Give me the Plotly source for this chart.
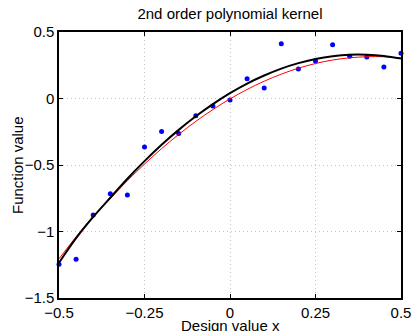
import plotly.graph_objects as go

# Design points
x_pts = [-0.5, -0.45, -0.4, -0.35, -0.3, -0.25, -0.2, -0.15, -0.1, -0.05, 0.0,
         0.05, 0.1, 0.15, 0.2, 0.25, 0.3, 0.35, 0.4, 0.45, 0.5]
y_pts = [-1.247, -1.209, -0.876, -0.716, -0.726, -0.365, -0.249, -0.264, -0.129, -0.056, -0.011,
         0.149, 0.079, 0.412, 0.222, 0.282, 0.405, 0.317, 0.312, 0.237, 0.340]

# Curves
x_curve = x_pts
y_black = [-1.235, -1.050, -0.890, -0.746, -0.603, -0.471, -0.348, -0.236, -0.134, -0.042, 0.040,
           0.112, 0.173, 0.225, 0.266, 0.297, 0.318, 0.329, 0.329, 0.320, 0.300]
y_red = [-1.205, -1.040, -0.885, -0.752, -0.618, -0.493, -0.377, -0.270, -0.172, -0.083, -0.003,
         0.068, 0.130, 0.183, 0.228, 0.263, 0.289, 0.306, 0.314, 0.314, 0.304]

x_ticks = [-0.5, -0.25, 0, 0.25, 0.5]
x_tick_text = ["\u22120.5", "\u22120.25", "0", "0.25", "0.5"]
y_ticks = [-1.5, -1, -0.5, 0, 0.5]
y_tick_text = ["\u22121.5", "\u22121", "\u22120.5", "0", "0.5"]

FONT = "Liberation Sans, Arial, sans-serif"

fig = go.Figure()
fig.add_trace(go.Scatter(x=x_pts, y=y_pts, mode="markers",
                         marker=dict(symbol="circle", size=5, color="#0000ff"),
                         showlegend=False, cliponaxis=False))
fig.add_trace(go.Scatter(x=x_curve, y=y_red, mode="lines", line=dict(color="#ff0000", width=1, shape="spline"),
                         showlegend=False))
fig.add_trace(go.Scatter(x=x_curve, y=y_black, mode="lines", line=dict(color="#000000", width=2, shape="spline"),
                         showlegend=False))

axis_common = dict(showline=True, linecolor="black", linewidth=1.5, mirror="ticks",
                   ticks="inside", ticklen=4, tickcolor="black", tickwidth=1,
                   showgrid=True, gridcolor="#c4c4c4", griddash="1px,3px", gridwidth=1,
                   zeroline=False, automargin=False,
                   tickfont=dict(family=FONT, size=15, color="black"))

fig.update_xaxes(range=[-0.5, 0.5], tickvals=x_ticks, ticktext=x_tick_text, **axis_common)
fig.update_yaxes(range=[-1.5, 0.5], tickvals=y_ticks, ticktext=y_tick_text, **axis_common)

fig.update_layout(
    width=412, height=331,
    margin=dict(l=59, r=11, t=32, b=33, autoexpand=False),
    paper_bgcolor="white", plot_bgcolor="white",
    font=dict(family=FONT, size=15, color="black"),
    title=dict(text="2nd order polynomial kernel", x=0.5, xref="paper", xanchor="center",
               y=1 - 14 / 331, yref="container", yanchor="middle",
               font=dict(family=FONT, size=15, color="black")),
    annotations=[
        dict(text="Design value x", x=0.5, xref="paper", y=0, yref="paper",
             xanchor="center", yanchor="middle", yshift=-27, showarrow=False,
             font=dict(family=FONT, size=15, color="black")),
        dict(text="Function value", x=0, xref="paper", y=0.5, yref="paper",
             xanchor="center", yanchor="middle", xshift=-42, showarrow=False, textangle=-90,
             font=dict(family=FONT, size=15, color="black")),
    ],
)

fig.write_html("out.html", config={"displayModeBar": False},
               post_script="document.body.style.margin='0';document.body.style.overflow='hidden';")
